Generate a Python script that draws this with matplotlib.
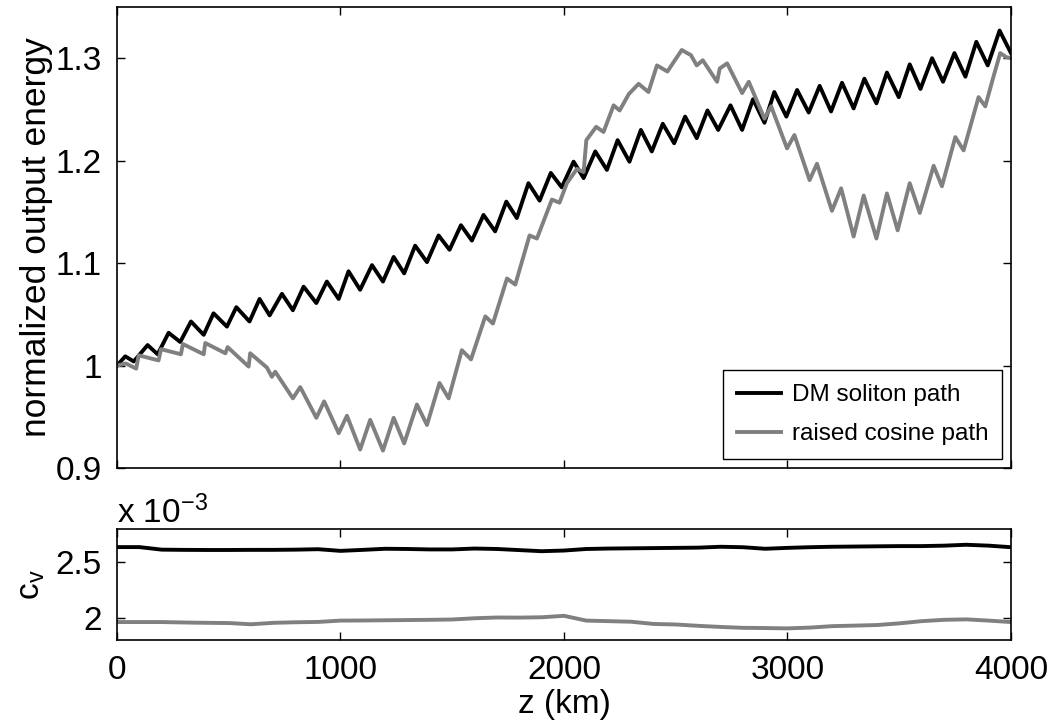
import matplotlib
matplotlib.use("Agg")
import matplotlib.pyplot as plt

plt.rcParams['font.family'] = ['Liberation Sans', 'DejaVu Sans']
plt.rcParams['mathtext.default'] = 'regular'

# energy vs distance (peaks / troughs)
black_z = [0, 37, 75, 137, 182, 231, 283, 331, 388, 432, 492, 534, 593, 638, 683,
           738, 787, 835, 892, 939, 992, 1036, 1088, 1141, 1190, 1238, 1285, 1334,
           1387, 1439, 1488, 1539, 1588, 1640, 1692, 1742, 1789, 1841, 1891, 1941,
           1990, 2043, 2088, 2140, 2192, 2240, 2293, 2344, 2393, 2442, 2493, 2542,
           2594, 2642, 2690, 2745, 2797, 2846, 2897, 2941, 2995, 3043, 3095, 3144,
           3195, 3244, 3296, 3344, 3398, 3445, 3498, 3547, 3595, 3647, 3696, 3747,
           3796, 3845, 3896, 3949, 4000]
black_e = [1.000, 1.009, 1.004, 1.020, 1.011, 1.032, 1.023, 1.043, 1.030, 1.051,
           1.038, 1.057, 1.043, 1.065, 1.049, 1.070, 1.054, 1.077, 1.061, 1.082,
           1.065, 1.092, 1.074, 1.098, 1.082, 1.106, 1.090, 1.117, 1.101, 1.127,
           1.113, 1.137, 1.122, 1.147, 1.131, 1.160, 1.144, 1.178, 1.161, 1.188,
           1.174, 1.199, 1.183, 1.209, 1.191, 1.220, 1.199, 1.230, 1.209, 1.236,
           1.217, 1.243, 1.222, 1.249, 1.230, 1.254, 1.230, 1.260, 1.237, 1.267,
           1.243, 1.269, 1.247, 1.273, 1.248, 1.276, 1.251, 1.280, 1.256, 1.286,
           1.262, 1.294, 1.270, 1.300, 1.277, 1.305, 1.282, 1.316, 1.293, 1.327,
           1.305]

gray_z = [0, 40, 86, 97, 186, 197, 286, 295, 388, 395, 485, 495, 589, 596, 671,
          693, 708, 787, 820, 892, 927, 992, 1029, 1088, 1133, 1190, 1238, 1285,
          1342, 1387, 1443, 1484, 1543, 1584, 1648, 1682, 1745, 1782, 1846, 1879,
          1946, 1980, 2013, 2058, 2076, 2088, 2100, 2144, 2177, 2222, 2249, 2290,
          2334, 2378, 2416, 2463, 2490, 2527, 2568, 2594, 2621, 2685, 2697, 2730,
          2797, 2827, 2897, 2927, 2998, 3031, 3099, 3132, 3199, 3240, 3296, 3341,
          3398, 3445, 3493, 3547, 3592, 3654, 3691, 3751, 3788, 3855, 3885, 3923,
          3952, 3979, 4000]
gray_e = [1.000, 1.002, 0.997, 1.010, 1.005, 1.016, 1.011, 1.021, 1.011, 1.022,
          1.012, 1.018, 0.999, 1.012, 0.998, 0.989, 0.994, 0.968, 0.979, 0.949,
          0.965, 0.934, 0.951, 0.918, 0.947, 0.917, 0.949, 0.924, 0.962, 0.942,
          0.983, 0.968, 1.015, 1.006, 1.048, 1.041, 1.085, 1.079, 1.127, 1.124,
          1.162, 1.159, 1.178, 1.192, 1.190, 1.189, 1.220, 1.233, 1.228, 1.254,
          1.249, 1.265, 1.275, 1.267, 1.293, 1.287, 1.296, 1.308, 1.303, 1.293,
          1.298, 1.277, 1.290, 1.295, 1.266, 1.277, 1.241, 1.253, 1.212, 1.225,
          1.181, 1.197, 1.151, 1.173, 1.126, 1.166, 1.124, 1.168, 1.132, 1.178,
          1.149, 1.195, 1.175, 1.223, 1.210, 1.262, 1.253, 1.283, 1.305, 1.301,
          1.300]

# c_v every 100 km (x 1e-3)
cv_z = list(range(0, 4001, 100))
cv_black = [2.637, 2.637, 2.614, 2.612, 2.611, 2.611, 2.612, 2.612, 2.614, 2.618,
            2.603, 2.612, 2.622, 2.620, 2.616, 2.616, 2.624, 2.620, 2.610, 2.600,
            2.606, 2.620, 2.624, 2.626, 2.628, 2.630, 2.632, 2.640, 2.636, 2.622,
            2.630, 2.636, 2.640, 2.642, 2.644, 2.646, 2.646, 2.650, 2.658, 2.650,
            2.636]
cv_gray = [1.962, 1.962, 1.962, 1.958, 1.955, 1.953, 1.942, 1.955, 1.960, 1.963,
           1.975, 1.976, 1.978, 1.980, 1.982, 1.985, 1.996, 2.003, 2.002, 2.005,
           2.018, 1.975, 1.970, 1.965, 1.945, 1.940, 1.928, 1.918, 1.910, 1.908,
           1.905, 1.912, 1.925, 1.930, 1.935, 1.950, 1.970, 1.982, 1.986, 1.975,
           1.962]

fs = 24
gray = '#808080'

fig = plt.figure(figsize=(10.52, 7.21), dpi=100)
ax1 = fig.add_axes([0.1112, 0.3509, 0.8498, 0.6394])
ax2 = fig.add_axes([0.1112, 0.1123, 0.8498, 0.1540])

ax1.plot(black_z, black_e, color='k', lw=2.8, solid_joinstyle='round',
         label='DM soliton path')
ax1.plot(gray_z, gray_e, color=gray, lw=2.8, solid_joinstyle='round',
         label='raised cosine path')
ax1.set_xlim(0, 4000)
ax1.set_ylim(0.9, 1.35)
ax1.set_yticks([0.9, 1.0, 1.1, 1.2, 1.3])
ax1.set_yticklabels(['0.9', '1', '1.1', '1.2', '1.3'])
ax1.set_xticks([0, 1000, 2000, 3000, 4000])
ax1.set_xticklabels([])
ax1.set_ylabel('normalized output energy', fontsize=25.5, labelpad=2)
leg = ax1.legend(loc='lower right', fontsize=17.5, fancybox=False, framealpha=1,
                 edgecolor='k', handlelength=1.8, handletextpad=0.45,
                 labelspacing=0.7, borderpad=0.58, borderaxespad=0.35)
leg.get_frame().set_linewidth(1.0)

ax2.plot(cv_z, [v * 1e-3 for v in cv_black], color='k', lw=2.8)
ax2.plot(cv_z, [v * 1e-3 for v in cv_gray], color=gray, lw=2.8)
ax2.set_xlim(0, 4000)
ax2.set_ylim(1.8e-3, 2.8e-3)
ax2.set_yticks([2e-3, 2.5e-3])
ax2.set_yticklabels(['2', '2.5'])
ax2.set_xticks([0, 1000, 2000, 3000, 4000])
ax2.set_xlabel('z (km)', fontsize=fs, labelpad=2)
ax2.set_ylabel('c$_v$', fontsize=fs, labelpad=6)
ax2.text(0, 0.99, 'x 10$^{-3}$', transform=ax2.transAxes, fontsize=fs,
         ha='left', va='bottom')

for ax in (ax1, ax2):
    ax.tick_params(direction='in', length=6, width=1, labelsize=fs,
                   top=True, right=True, pad=11)
    for s in ax.spines.values():
        s.set_linewidth(1.2)

fig.savefig('out.png', dpi=100)
